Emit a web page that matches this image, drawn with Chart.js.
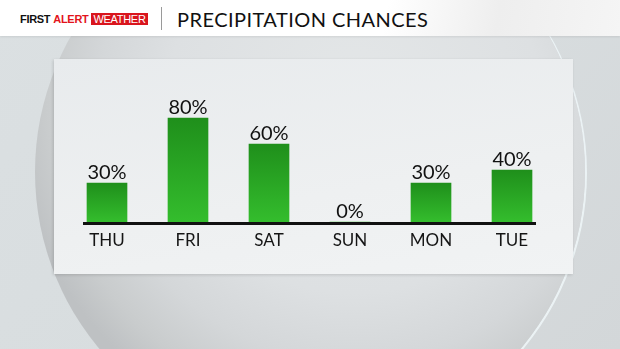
<!DOCTYPE html>
<html>
<head>
<meta charset="utf-8">
<script src="https://cdn.jsdelivr.net/npm/chart.js@4.4.1/dist/chart.umd.min.js"></script>
<style>
  html, body { margin: 0; padding: 0; }
  body { width: 620px; height: 349px; overflow: hidden; position: relative; background: #d8dddf; font-family: 'Lato', sans-serif; }
  .bg { position: absolute; left: 0; top: 0; width: 620px; height: 349px;
        background: linear-gradient(135deg, #dbe0e2 0%, #d8dddf 50%, #d3d7d9 100%); }
  .circle { position: absolute; left: 35px; top: -103px; width: 550px; height: 550px; border-radius: 50%;
            background: radial-gradient(circle farthest-side at 58% 38%, #e4e7e8 0%, #dde0e2 55%, #d4d7d9 75%, #c9cccd 90%, #bec1c3 100%);
            box-shadow: 2px 1px 0 0 rgba(236,243,246,0.95); }
  .panel { position: absolute; left: 54px; top: 59px; width: 519px; height: 215px;
           background: linear-gradient(170deg, #e8ebed 0%, #eef0f1 60%, #f1f3f4 100%);
           box-shadow: -1px 1px 3px rgba(0,0,0,0.14); }
  .header { position: absolute; left: 0; top: 0; width: 620px; height: 36px;
            background: linear-gradient(100deg, #ffffff 0%, #ffffff 62%, #eeeeee 80%, #f5f5f5 100%);
            box-shadow: 0 1px 2px rgba(0,0,0,0.08); }
  .logo { position: absolute; left: 20px; top: 13px; font-family: 'Liberation Sans', sans-serif; font-weight: bold;
          font-size: 11px; line-height: 12px; letter-spacing: -0.3px; white-space: nowrap; }
  .logo .first { color: #111; }
  .logo .alert { color: #e3141c; margin-left: 3px; }
  .logo .wx { color: #fff; background: #d9151d; padding: 0 2px; margin-left: 3px; font-weight: normal; }
  .divider { position: absolute; left: 161px; top: 7px; width: 1px; height: 23px; background: #9a9a9a; }
  .title { position: absolute; left: 177px; top: 7px; font-size: 20px; color: #111; white-space: nowrap; letter-spacing: 0.45px; }
  canvas { position: absolute; left: 0; top: 0; }
</style>
</head>
<body>
<div class="bg"></div>
<div class="circle"></div>
<div class="panel"></div>
<div class="header">
  <div class="logo"><span class="first">FIRST</span><span class="alert">ALERT</span><span class="wx">WEATHER</span></div>
  <div class="divider"></div>
  <div class="title">PRECIPITATION CHANCES</div>
</div>
<canvas id="rainChart" width="620" height="349"></canvas>
<script>
// Dados
const days = ['THU', 'FRI', 'SAT', 'SUN', 'MON', 'TUE'];
const chances = [30, 80, 60, 0, 30, 40];

const barTop = '#1f8f1b';
const barBottom = '#34bd2d';

// Gradiente por barra
function barGradient(ctx) {
    const chart = ctx.chart;
    if (!chart.chartArea || ctx.type !== 'data') return barBottom;
    const y = chart.scales.y;
    const top = y.getPixelForValue(ctx.parsed ? ctx.parsed.y : ctx.raw);
    const bottom = y.getPixelForValue(0);
    if (!isFinite(top) || bottom - top < 1) return barBottom;
    const g = chart.ctx.createLinearGradient(0, top, 0, bottom);
    g.addColorStop(0, barTop);
    g.addColorStop(1, barBottom);
    return g;
}

// Linha de base e rótulos de valor
const baselinePlugin = {
    id: 'baseline',
    afterDatasetsDraw(chart) {
        const { ctx, scales } = chart;
        const meta = chart.getDatasetMeta(0);
        const y0 = scales.y.getPixelForValue(0);
        const first = meta.data[0];
        const last = meta.data[meta.data.length - 1];
        ctx.save();
        ctx.strokeStyle = '#111';
        ctx.lineWidth = 3;
        ctx.beginPath();
        ctx.moveTo(first.x - first.width / 2 - 4, y0 + 1.5);
        ctx.lineTo(last.x + last.width / 2 + 4, y0 + 1.5);
        ctx.stroke();

        ctx.fillStyle = '#111';
        ctx.font = '20px Lato';
        ctx.textAlign = 'center';
        ctx.textBaseline = 'alphabetic';
        meta.data.forEach((bar, i) => {
            ctx.fillText(chances[i] + '%', bar.x, bar.y - 4);
        });
        ctx.restore();
    }
};

const rainChart = new Chart(document.getElementById('rainChart'), {
    type: 'bar',
    data: {
        labels: days,
        datasets: [{
            data: chances,
            backgroundColor: barGradient,
            barThickness: 40,
            borderWidth: 0
        }]
    },
    options: {
        responsive: false,
        animation: false,
        layout: {
            padding: { left: 66.5, right: 67.5, top: 92, bottom: 90.6 }
        },
        scales: {
            x: {
                grid: { display: false, drawTicks: false },
                border: { display: false },
                ticks: {
                    color: '#151515',
                    padding: 8,
                    font: { family: 'Lato', size: 17 }
                }
            },
            y: {
                display: false,
                min: 0,
                max: 100
            }
        },
        plugins: {
            legend: { display: false },
            tooltip: { enabled: false }
        }
    },
    plugins: [baselinePlugin]
});
</script>
</body>
</html>
